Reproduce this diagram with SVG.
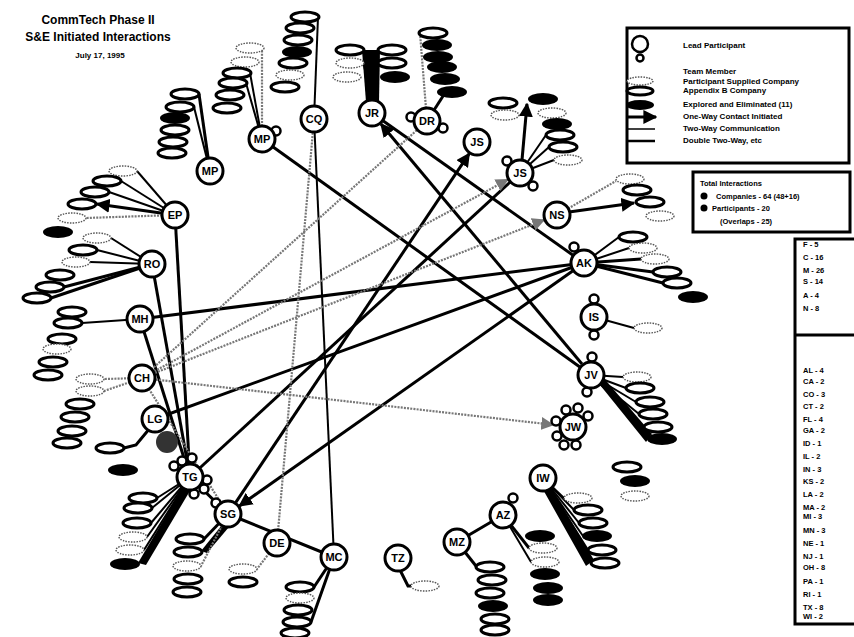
<svg xmlns="http://www.w3.org/2000/svg" width="854" height="637" viewBox="0 0 854 637">
<style>
.t{font-family:"Liberation Sans",Arial,sans-serif;font-weight:bold;fill:#000}
.nc{fill:#fff;stroke:#000;stroke-width:3}
.nl{font-family:"Liberation Sans",Arial,sans-serif;font-weight:bold;font-size:11px;text-anchor:middle;fill:#000}
.tm{fill:#fff;stroke:#000;stroke-width:2.5}
.d{fill:#fff;stroke:#555;stroke-width:1.4;stroke-dasharray:1.5 1.2}
.o{fill:#fff;stroke:#000;stroke-width:3}
.f{fill:#000}
.e{stroke:#000;stroke-width:3;fill:none}
.w{stroke:#000;stroke-width:2;fill:none}
.h{stroke:#777;stroke-width:2.2;stroke-dasharray:2 1.2;fill:none}
.wg{fill:#000}
</style>
<defs>
<marker id="ab" viewBox="0 0 10 10" refX="9" refY="5" markerWidth="14" markerHeight="14" markerUnits="userSpaceOnUse" orient="auto"><path d="M0,0 L10,5 L0,10 z" fill="#000"/></marker>
<marker id="ag" viewBox="0 0 10 10" refX="9" refY="5" markerWidth="13" markerHeight="13" markerUnits="userSpaceOnUse" orient="auto"><path d="M0,0 L10,5 L0,10 z" fill="#777"/></marker>
</defs>
<rect width="854" height="637" fill="#fff"/>

<g id="title">
<text class="t" x="98" y="24" font-size="12" text-anchor="middle">CommTech Phase II</text>
<text class="t" x="98" y="41" font-size="12" text-anchor="middle">S&amp;E Initiated Interactions</text>
<text class="t" x="100" y="58" font-size="8" text-anchor="middle">July 17, 1995</text>
</g>

<g id="legend">
<rect x="627" y="28" width="222" height="135" fill="#fff" stroke="#000" stroke-width="3"/>
<circle cx="640" cy="44" r="8" class="tm"/>
<circle cx="640" cy="58" r="3.5" class="tm"/>
<ellipse class="d" cx="640" cy="81" rx="13" ry="4"/>
<ellipse class="o" cx="640" cy="91" rx="13" ry="4" stroke-width="2.5"/>
<ellipse class="f" cx="640" cy="105" rx="14" ry="5"/>
<line x1="627" y1="117" x2="656" y2="117" stroke="#000" stroke-width="3" marker-end="url(#ab)"/>
<line x1="627" y1="129" x2="655" y2="129" stroke="#000" stroke-width="1.5"/>
<line x1="627" y1="141" x2="655" y2="141" stroke="#000" stroke-width="2.5"/>
<text class="t" x="683" y="48" font-size="8">Lead Participant</text>
<text class="t" x="683" y="74" font-size="8">Team Member</text>
<text class="t" x="683" y="84" font-size="8">Participant Supplied Company</text>
<text class="t" x="683" y="93" font-size="8">Appendix B Company</text>
<text class="t" x="683" y="107" font-size="8">Explored and Eliminated (11)</text>
<text class="t" x="683" y="119" font-size="8">One-Way Contact Initiated</text>
<text class="t" x="683" y="131" font-size="8">Two-Way Communication</text>
<text class="t" x="683" y="143" font-size="8">Double Two-Way, etc</text>
</g>

<g id="totals">
<rect x="693" y="172" width="157" height="60" fill="#fff" stroke="#000" stroke-width="3"/>
<text class="t" x="700" y="186" font-size="7.5">Total Interactions</text>
<circle cx="704" cy="196" r="3.5" fill="#000"/>
<circle cx="704" cy="208" r="3.5" fill="#000"/>
<text class="t" x="716" y="199" font-size="7.5">Companies - 64 (48+16)</text>
<text class="t" x="712" y="211" font-size="7.5">Participants - 20</text>
<text class="t" x="720" y="224" font-size="7.5">(Overlaps - 25)</text>
</g>

<g id="counts">
<path d="M856,239 H795 V624 H856" fill="#fff" stroke="#000" stroke-width="3"/>
<line x1="795" y1="335" x2="856" y2="335" stroke="#000" stroke-width="3"/>
<g class="t" font-size="7.5">
<text x="803" y="247">F -  5</text>
<text x="803" y="260">C - 16</text>
<text x="803" y="273">M - 26</text>
<text x="803" y="284">S - 14</text>
<text x="803" y="298">A -  4</text>
<text x="803" y="311">N -  8</text>
<text x="803" y="373">AL - 4</text>
<text x="803" y="384">CA - 2</text>
<text x="803" y="397">CO - 3</text>
<text x="803" y="409">CT - 2</text>
<text x="803" y="422">FL - 4</text>
<text x="803" y="433">GA - 2</text>
<text x="803" y="446">ID  - 1</text>
<text x="803" y="459">IL   - 2</text>
<text x="803" y="472">IN  - 3</text>
<text x="803" y="484">KS - 2</text>
<text x="803" y="497">LA - 2</text>
<text x="803" y="510">MA - 2</text>
<text x="803" y="519">MI  - 3</text>
<text x="803" y="533">MN - 3</text>
<text x="803" y="546">NE  - 1</text>
<text x="803" y="559">NJ  - 1</text>
<text x="803" y="570">OH - 8</text>
<text x="803" y="584">PA - 1</text>
<text x="803" y="597">RI   - 1</text>
<text x="803" y="610">TX  - 8</text>
<text x="803" y="619">WI - 2</text>
</g>
</g>

<g id="connectors">
<line class="e" x1="262" y1="139" x2="591" y2="375"/>
<line class="e" x1="582" y1="364" x2="381" y2="124" marker-end="url(#ab)"/>
<line class="e" x1="584" y1="263" x2="372" y2="113"/>
<line class="w" x1="314" y1="119" x2="334" y2="557"/>
<line class="e" x1="572.6" y1="271.1" x2="239.4" y2="505.9" marker-end="url(#ab)"/>
<line class="e" x1="235.8" y1="502.4" x2="469.2" y2="153.6" marker-end="url(#ab)"/>
<line class="e" x1="190" y1="477" x2="520" y2="173"/>
<line class="e" x1="140" y1="319" x2="584" y2="263"/>
<line class="e" x1="155" y1="419" x2="584" y2="263"/>
<line class="e" x1="175" y1="215" x2="190" y2="477"/>
<line class="e" x1="152" y1="264" x2="190" y2="477"/>
<line class="e" x1="140" y1="319" x2="190" y2="477"/>
<line class="e" x1="190" y1="477" x2="228" y2="514"/>
<line class="e" x1="228" y1="514" x2="334" y2="557"/>
<line class="e" x1="457" y1="542" x2="503" y2="515"/>
<line class="h" x1="277" y1="543" x2="314" y2="119"/>
<line class="h" x1="142" y1="378" x2="427" y2="121"/>
<line class="h" x1="154.3" y1="371.3" x2="507.7" y2="179.7" marker-end="url(#ag)"/>
<line class="h" x1="155" y1="372.9" x2="544" y2="220.1" marker-end="url(#ag)"/>
<line class="h" x1="155.9" y1="379.6" x2="553" y2="424.8" marker-end="url(#ag)"/>
<line class="h" x1="142" y1="378" x2="228" y2="514"/>
<line class="w" x1="175" y1="215" x2="137" y2="171"/>
<line class="w" x1="175" y1="215" x2="121" y2="181"/>
<line class="w" x1="175" y1="215" x2="109" y2="192"/>
<line class="e" x1="175" y1="215" x2="97" y2="204" marker-end="url(#ab)"/>
<line class="h" x1="175" y1="215" x2="86" y2="218"/>
<line class="w" x1="152" y1="264" x2="111" y2="238"/>
<line class="w" x1="152" y1="264" x2="97" y2="250"/>
<line class="w" x1="152" y1="264" x2="90" y2="262"/>
<line class="e" x1="152" y1="264" x2="64" y2="287"/>
<line class="e" x1="152" y1="264" x2="51" y2="298"/>
<line class="w" x1="140" y1="319" x2="82" y2="323"/>
<line class="h" x1="142" y1="378" x2="104" y2="379"/>
<line class="h" x1="142" y1="378" x2="104" y2="391"/>
<polyline class="e" points="150,428 136,445 124,448"/>
<line class="w" x1="190" y1="477" x2="157" y2="498"/>
<line class="w" x1="190" y1="477" x2="152" y2="508"/>
<line class="w" x1="190" y1="477" x2="151" y2="523"/>
<line class="w" x1="190" y1="477" x2="147" y2="537"/>
<line class="w" x1="190" y1="477" x2="144" y2="550"/>
<polygon class="wg" points="186,482 194,484 146,565 138,563"/>
<polygon class="wg" points="222,525 229,527 207,553 201,551"/>
<line class="e" x1="228" y1="514" x2="204" y2="539"/>
<line class="h" x1="228" y1="514" x2="201" y2="566"/>
<line class="h" x1="277" y1="543" x2="257" y2="569"/>
<line class="e" x1="334" y1="557" x2="314" y2="587"/>
<line class="e" x1="334" y1="557" x2="311" y2="622"/>
<polyline class="e" points="400,570 408,586 411,586"/>
<line class="e" x1="457" y1="542" x2="476" y2="566"/>
<line class="e" x1="503" y1="515" x2="529" y2="548"/>
<line class="w" x1="503" y1="515" x2="531" y2="562"/>
<line class="w" x1="543" y1="478" x2="564" y2="498"/>
<line class="w" x1="543" y1="478" x2="574" y2="510"/>
<line class="w" x1="543" y1="478" x2="579" y2="523"/>
<line class="w" x1="543" y1="478" x2="583" y2="536"/>
<line class="w" x1="543" y1="478" x2="588" y2="550"/>
<polygon class="wg" points="541,486 549,484 594,560 586,566"/>
<line class="w" x1="591" y1="375" x2="623" y2="377"/>
<line class="w" x1="591" y1="375" x2="626" y2="388"/>
<line class="w" x1="591" y1="375" x2="636" y2="402"/>
<line class="w" x1="591" y1="375" x2="639" y2="414"/>
<line class="w" x1="591" y1="375" x2="644" y2="427"/>
<polygon class="wg" points="596,380 602,376 652,434 646,442"/>
<line class="w" x1="594" y1="317" x2="634" y2="328"/>
<line class="w" x1="584" y1="263" x2="619" y2="237"/>
<line class="w" x1="584" y1="263" x2="629" y2="248"/>
<line class="e" x1="584" y1="263" x2="641" y2="259"/>
<line class="e" x1="584" y1="263" x2="653" y2="272"/>
<line class="e" x1="584" y1="263" x2="663" y2="283"/>
<line class="h" x1="557" y1="215" x2="616" y2="181"/>
<line class="e" x1="569" y1="212" x2="634" y2="203" marker-end="url(#ab)"/>
<line class="e" x1="522" y1="160" x2="527" y2="104" marker-end="url(#ab)"/>
<line class="w" x1="520" y1="173" x2="546" y2="135"/>
<line class="w" x1="520" y1="173" x2="549" y2="147"/>
<line class="w" x1="520" y1="173" x2="554" y2="160"/>
<line class="h" x1="427" y1="121" x2="420" y2="33"/>
<line class="e" x1="427" y1="121" x2="445" y2="93"/>
<polygon class="wg" points="366,102 379,102 380,50 362,50"/>
<line class="e" x1="372" y1="100" x2="364" y2="63"/>
<line class="e" x1="372" y1="100" x2="378" y2="63"/>
<line class="w" x1="314" y1="119" x2="318" y2="17"/>
<line class="h" x1="262" y1="139" x2="262" y2="48"/>
<line class="w" x1="262" y1="139" x2="250" y2="73"/>
<line class="w" x1="262" y1="139" x2="246" y2="83"/>
<line class="e" x1="210" y1="171" x2="199" y2="94"/>
<line class="w" x1="210" y1="171" x2="194" y2="107"/>
</g>

<g id="companies">
<g id="EP-co"><ellipse class="d" cx="123" cy="171" rx="14" ry="5"/><ellipse class="o" cx="107" cy="181" rx="14" ry="5"/><ellipse class="o" cx="95" cy="192" rx="14" ry="5"/><ellipse class="o" cx="82" cy="204" rx="14" ry="5"/><ellipse class="d" cx="72" cy="218" rx="14" ry="5"/><ellipse class="f" cx="58" cy="232" rx="15" ry="6"/></g>
<g id="RO-co"><ellipse class="d" cx="97" cy="238" rx="14" ry="5"/><ellipse class="o" cx="83" cy="250" rx="14" ry="5"/><ellipse class="d" cx="76" cy="262" rx="14" ry="5"/><ellipse class="o" cx="60" cy="275" rx="14" ry="5"/><ellipse class="o" cx="50" cy="287" rx="14" ry="5"/><ellipse class="o" cx="37" cy="298" rx="14" ry="5"/></g>
<g id="MH-co"><ellipse class="o" cx="72" cy="312" rx="14" ry="5"/><ellipse class="o" cx="68" cy="323" rx="14" ry="5"/><ellipse class="o" cx="62" cy="339" rx="14" ry="5"/><ellipse class="d" cx="57" cy="349" rx="14" ry="5"/><ellipse class="o" cx="53" cy="362" rx="14" ry="5"/><ellipse class="o" cx="48" cy="375" rx="14" ry="5"/></g>
<g id="CH-co"><ellipse class="d" cx="90" cy="379" rx="14" ry="5"/><ellipse class="d" cx="90" cy="391" rx="14" ry="5"/><ellipse class="o" cx="80" cy="404" rx="14" ry="5"/><ellipse class="o" cx="75" cy="417" rx="14" ry="5"/><ellipse class="o" cx="72" cy="431" rx="14" ry="5"/><ellipse class="o" cx="67" cy="443" rx="14" ry="5"/></g>
<g id="LG-co"><ellipse class="o" cx="110" cy="448" rx="14" ry="5"/><ellipse class="f" cx="123" cy="470" rx="15" ry="6"/><circle cx="167" cy="442" r="11" fill="#333"/></g>
<g id="TG-co"><ellipse class="o" cx="143" cy="498" rx="14" ry="5"/><ellipse class="o" cx="138" cy="508" rx="14" ry="5"/><ellipse class="o" cx="137" cy="523" rx="14" ry="5"/><ellipse class="d" cx="133" cy="537" rx="14" ry="5"/><ellipse class="d" cx="130" cy="550" rx="14" ry="5"/><ellipse class="f" cx="125" cy="564" rx="15" ry="6"/></g>
<g id="SG-co"><ellipse class="o" cx="190" cy="539" rx="14" ry="5"/><ellipse class="o" cx="188" cy="552" rx="14" ry="5"/><ellipse class="d" cx="187" cy="566" rx="14" ry="5"/><ellipse class="o" cx="188" cy="579" rx="14" ry="5"/><ellipse class="o" cx="187" cy="592" rx="14" ry="5"/></g>
<g id="DE-co"><ellipse class="d" cx="243" cy="569" rx="14" ry="5"/><ellipse class="o" cx="243" cy="582" rx="14" ry="5"/></g>
<g id="MC-co"><ellipse class="o" cx="300" cy="587" rx="14" ry="5"/><ellipse class="d" cx="300" cy="598" rx="14" ry="5"/><ellipse class="o" cx="298" cy="610" rx="14" ry="5"/><ellipse class="o" cx="297" cy="622" rx="14" ry="5"/><ellipse class="o" cx="295" cy="633" rx="14" ry="5"/></g>
<g id="TZ-co"><ellipse class="d" cx="425" cy="586" rx="14" ry="5"/></g>
<g id="MZ-co"><ellipse class="o" cx="490" cy="567" rx="14" ry="5"/><ellipse class="o" cx="492" cy="580" rx="14" ry="5"/><ellipse class="o" cx="490" cy="593" rx="14" ry="5"/><ellipse class="f" cx="493" cy="606" rx="15" ry="6"/><ellipse class="o" cx="495" cy="619" rx="14" ry="5"/><ellipse class="o" cx="495" cy="630" rx="14" ry="5"/></g>
<g id="AZ-co"><ellipse class="f" cx="540" cy="536" rx="15" ry="6"/><ellipse class="d" cx="543" cy="548" rx="14" ry="5"/><ellipse class="d" cx="545" cy="562" rx="14" ry="5"/><ellipse class="f" cx="545" cy="574" rx="15" ry="6"/><ellipse class="f" cx="548" cy="588" rx="15" ry="6"/><ellipse class="f" cx="548" cy="600" rx="15" ry="6"/></g>
<g id="IW-co"><ellipse class="d" cx="578" cy="498" rx="14" ry="5"/><ellipse class="o" cx="588" cy="510" rx="14" ry="5"/><ellipse class="o" cx="593" cy="523" rx="14" ry="5"/><ellipse class="f" cx="597" cy="536" rx="15" ry="6"/><ellipse class="o" cx="602" cy="550" rx="14" ry="5"/><ellipse class="o" cx="605" cy="563" rx="14" ry="5"/><ellipse class="o" cx="627" cy="467" rx="14" ry="5"/><ellipse class="f" cx="635" cy="481" rx="15" ry="6"/><ellipse class="d" cx="635" cy="496" rx="14" ry="5"/></g>
<g id="JV-co"><ellipse class="d" cx="637" cy="377" rx="14" ry="5"/><ellipse class="o" cx="640" cy="388" rx="14" ry="5"/><ellipse class="o" cx="650" cy="402" rx="14" ry="5"/><ellipse class="o" cx="653" cy="414" rx="14" ry="5"/><ellipse class="o" cx="658" cy="427" rx="14" ry="5"/><ellipse class="f" cx="662" cy="439" rx="15" ry="6"/></g>
<g id="IS-co"><ellipse class="d" cx="648" cy="328" rx="14" ry="5"/></g>
<g id="AK-co"><ellipse class="o" cx="633" cy="237" rx="14" ry="5"/><ellipse class="d" cx="643" cy="248" rx="14" ry="5"/><ellipse class="d" cx="655" cy="259" rx="14" ry="5"/><ellipse class="o" cx="667" cy="272" rx="14" ry="5"/><ellipse class="o" cx="677" cy="283" rx="14" ry="5"/><ellipse class="f" cx="693" cy="297" rx="15" ry="6"/></g>
<g id="NS-co"><ellipse class="d" cx="630" cy="179" rx="14" ry="5"/><ellipse class="o" cx="637" cy="190" rx="14" ry="5"/><ellipse class="o" cx="650" cy="202" rx="14" ry="5"/><ellipse class="d" cx="660" cy="216" rx="14" ry="5"/></g>
<g id="JS-co"><ellipse class="f" cx="543" cy="99" rx="15" ry="6"/><ellipse class="o" cx="503" cy="103" rx="14" ry="5"/><ellipse class="d" cx="505" cy="115" rx="14" ry="5"/><ellipse class="d" cx="552" cy="113" rx="14" ry="5"/><ellipse class="f" cx="557" cy="124" rx="15" ry="6"/><ellipse class="o" cx="560" cy="135" rx="14" ry="5"/><ellipse class="o" cx="563" cy="147" rx="14" ry="5"/><ellipse class="d" cx="568" cy="160" rx="14" ry="5"/></g>
<g id="DR-co"><ellipse class="o" cx="433" cy="33" rx="14" ry="5"/><ellipse class="f" cx="437" cy="45" rx="15" ry="6"/><ellipse class="f" cx="438" cy="57" rx="15" ry="6"/><ellipse class="f" cx="442" cy="67" rx="15" ry="6"/><ellipse class="f" cx="445" cy="79" rx="15" ry="6"/><ellipse class="f" cx="452" cy="92" rx="15" ry="6"/></g>
<g id="JR-co"><ellipse class="o" cx="350" cy="50" rx="14" ry="5"/><ellipse class="d" cx="350" cy="63" rx="14" ry="5"/><ellipse class="d" cx="347" cy="77" rx="14" ry="5"/><ellipse class="o" cx="392" cy="50" rx="14" ry="5"/><ellipse class="o" cx="392" cy="63" rx="14" ry="5"/><ellipse class="f" cx="395" cy="77" rx="15" ry="6"/></g>
<g id="CQ-co"><ellipse class="o" cx="305" cy="17" rx="14" ry="5"/><ellipse class="o" cx="300" cy="28" rx="14" ry="5"/><ellipse class="o" cx="298" cy="40" rx="14" ry="5"/><ellipse class="f" cx="297" cy="52" rx="15" ry="6"/><ellipse class="o" cx="293" cy="63" rx="14" ry="5"/><ellipse class="d" cx="290" cy="75" rx="14" ry="5"/><ellipse class="o" cx="285" cy="87" rx="14" ry="5"/></g>
<g id="MP2-co"><ellipse class="d" cx="250" cy="48" rx="14" ry="5"/><ellipse class="d" cx="245" cy="62" rx="14" ry="5"/><ellipse class="o" cx="237" cy="73" rx="14" ry="5"/><ellipse class="o" cx="233" cy="83" rx="14" ry="5"/><ellipse class="o" cx="230" cy="95" rx="14" ry="5"/><ellipse class="o" cx="227" cy="108" rx="14" ry="5"/></g>
<g id="MP1-co"><ellipse class="o" cx="185" cy="94" rx="14" ry="5"/><ellipse class="o" cx="180" cy="107" rx="14" ry="5"/><ellipse class="f" cx="175" cy="118" rx="15" ry="6"/><ellipse class="o" cx="175" cy="130" rx="14" ry="5"/><ellipse class="o" cx="173" cy="142" rx="14" ry="5"/><ellipse class="o" cx="172" cy="153" rx="14" ry="5"/></g>
</g>

<g id="team-members">
<circle class="tm" cx="276" cy="131" r="4.5"/>
<circle class="tm" cx="411" cy="117" r="4.5"/><circle class="tm" cx="443" cy="128" r="4.5"/>
<circle class="tm" cx="507" cy="161" r="4.5"/><circle class="tm" cx="533" cy="186" r="4.5"/>
<circle class="tm" cx="574" cy="247" r="4.5"/>
<circle class="tm" cx="594" cy="299" r="4.5"/><circle class="tm" cx="594" cy="335" r="4.5"/>
<circle class="tm" cx="592" cy="357" r="4.5"/><circle class="tm" cx="587" cy="392" r="4.5"/>
<circle class="tm" cx="566" cy="410" r="4.5"/><circle class="tm" cx="578" cy="408" r="4.5"/><circle class="tm" cx="588" cy="416" r="4.5"/><circle class="tm" cx="556" cy="421" r="4.5"/><circle class="tm" cx="557" cy="436" r="4.5"/><circle class="tm" cx="564" cy="445" r="4.5"/><circle class="tm" cx="576" cy="445" r="4.5"/>
<circle class="tm" cx="182" cy="461" r="4.5"/><circle class="tm" cx="192" cy="458" r="4.5"/><circle class="tm" cx="174" cy="466" r="4.5"/><circle class="tm" cx="207" cy="480" r="4.5"/><circle class="tm" cx="204" cy="489" r="4.5"/><circle class="tm" cx="194" cy="494" r="4.5"/>
<circle class="tm" cx="216" cy="503" r="4.5"/>
<circle class="tm" cx="513" cy="498" r="4.5"/>
</g>

<g id="nodes">
<g id="MP1"><circle class="nc" cx="210" cy="171" r="13"/><text class="nl" x="210" y="175">MP</text></g>
<g id="MP2"><circle class="nc" cx="262" cy="139" r="13"/><text class="nl" x="262" y="143">MP</text></g>
<g id="CQ"><circle class="nc" cx="314" cy="119" r="13"/><text class="nl" x="314" y="123">CQ</text></g>
<g id="JR"><circle class="nc" cx="372" cy="113" r="13"/><text class="nl" x="372" y="117">JR</text></g>
<g id="DR"><circle class="nc" cx="427" cy="121" r="13"/><text class="nl" x="427" y="125">DR</text></g>
<g id="JS1"><circle class="nc" cx="477" cy="142" r="13"/><text class="nl" x="477" y="146">JS</text></g>
<g id="JS2"><circle class="nc" cx="520" cy="173" r="13"/><text class="nl" x="520" y="177">JS</text></g>
<g id="NS"><circle class="nc" cx="557" cy="215" r="13"/><text class="nl" x="557" y="219">NS</text></g>
<g id="AK"><circle class="nc" cx="584" cy="263" r="13"/><text class="nl" x="584" y="267">AK</text></g>
<g id="IS"><circle class="nc" cx="594" cy="317" r="13"/><text class="nl" x="594" y="321">IS</text></g>
<g id="JV"><circle class="nc" cx="591" cy="375" r="13"/><text class="nl" x="591" y="379">JV</text></g>
<g id="JW"><circle class="nc" cx="573" cy="427" r="13"/><text class="nl" x="573" y="431">JW</text></g>
<g id="IW"><circle class="nc" cx="543" cy="478" r="13"/><text class="nl" x="543" y="482">IW</text></g>
<g id="AZ"><circle class="nc" cx="503" cy="515" r="13"/><text class="nl" x="503" y="519">AZ</text></g>
<g id="MZ"><circle class="nc" cx="457" cy="542" r="13"/><text class="nl" x="457" y="546">MZ</text></g>
<g id="TZ"><circle class="nc" cx="398" cy="558" r="13"/><text class="nl" x="398" y="562">TZ</text></g>
<g id="MC"><circle class="nc" cx="334" cy="557" r="13"/><text class="nl" x="334" y="561">MC</text></g>
<g id="DE"><circle class="nc" cx="277" cy="543" r="13"/><text class="nl" x="277" y="547">DE</text></g>
<g id="SG"><circle class="nc" cx="228" cy="514" r="13"/><text class="nl" x="228" y="518">SG</text></g>
<g id="TG"><circle class="nc" cx="190" cy="477" r="13"/><text class="nl" x="190" y="481">TG</text></g>
<g id="LG"><circle class="nc" cx="155" cy="419" r="13"/><text class="nl" x="155" y="423">LG</text></g>
<g id="CH"><circle class="nc" cx="142" cy="378" r="13"/><text class="nl" x="142" y="382">CH</text></g>
<g id="MH"><circle class="nc" cx="140" cy="319" r="13"/><text class="nl" x="140" y="323">MH</text></g>
<g id="RO"><circle class="nc" cx="152" cy="264" r="13"/><text class="nl" x="152" y="268">RO</text></g>
<g id="EP"><circle class="nc" cx="175" cy="215" r="13"/><text class="nl" x="175" y="219">EP</text></g>
</g>
</svg>
